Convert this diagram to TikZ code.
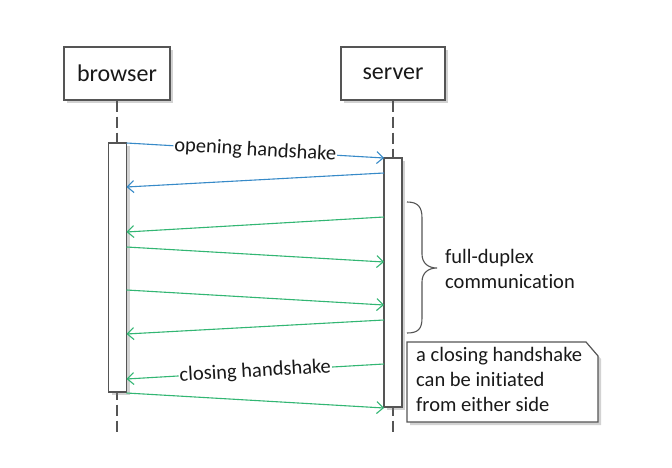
\documentclass[tikz,border=0pt]{standalone}
\usepackage{fontspec}
\setmainfont{Carlito}[Ligatures={NoCommon}]
\usetikzlibrary{arrows.meta,shadows,calc}
\definecolor{msgblue}{RGB}{55,138,200}
\definecolor{msggreen}{RGB}{50,182,115}
\definecolor{edgegray}{RGB}{85,85,85}
\definecolor{txt}{RGB}{25,25,25}
\begin{document}
\begin{tikzpicture}[x=1pt,y=-1pt,
  shadowed/.style={drop shadow={shadow xshift=3pt, shadow yshift=-3pt, opacity=0.35, fill=gray}},
  actor/.style={draw=edgegray, line width=1.2pt, fill=white, minimum height=53pt, inner sep=0pt,
    font=\fontsize{24}{28}\selectfont, text=txt, shadowed},
  activation/.style={draw=edgegray, line width=1.2pt, fill=white, minimum width=18pt,
    minimum height=249pt, inner sep=0pt, shadowed},
  lifeline/.style={draw=edgegray, line width=1.2pt, dash pattern=on 11pt off 5pt},
  msg/.style={line width=1.1pt, -{Straight Barb[length=6.5pt,width=12pt]}},
  msglabel/.style={midway, sloped, fill=white, inner sep=1pt, text=txt, font=\fontsize{20.5}{24}\selectfont},
  plaintext/.style={text=txt, font=\fontsize{20.5}{25}\selectfont, align=left, inner sep=0pt}
]
\useasboundingbox[fill=white] (0,0) rectangle (672,468);

% lifelines
\coordinate (bendline) at (117,432);
\coordinate (sendline) at (393,432);
\node[actor, minimum width=106pt] (browser) at (117,73.5) {browser};
\node[actor, minimum width=104pt] (server) at (393,73.5) {server};
\draw[lifeline] (browser.south) -- (bendline);
\draw[lifeline] (server.south) -- (sendline);

% activation bars
\node[activation] (bbar) at (117.5,267.5) {};
\node[activation] (sbar) at (393,282.5) {};

% message end points
\foreach \n/\y in {1/143,2/187,3/232,4/247,5/290,6/334,7/379,8/393} {
  \coordinate (b\n) at (126.5,\y);
}
\foreach \n/\y in {1/158,2/173,3/217,4/262,5/305,6/320,7/364,8/408} {
  \coordinate (s\n) at (384,\y);
}

\draw[msg, msgblue] (b1) -- (s1) node[msglabel] {opening handshake};
\draw[msg, msgblue] (s2) -- (b2);
\draw[msg, msggreen] (s3) -- (b3);
\draw[msg, msggreen] (b4) -- (s4);
\draw[msg, msggreen] (b5) -- (s5);
\draw[msg, msggreen] (s6) -- (b6);
\draw[msg, msggreen] (s7) -- (b7) node[msglabel] {closing handshake};
\draw[msg, msggreen] (b8) -- (s8);

% brace
\draw[edgegray, line width=1.1pt] (407,202) .. controls (418,202) and (422,207) .. (422,218)
  -- (422,254) .. controls (422,263) and (428,268) .. (437,268)
  .. controls (428,268) and (422,273) .. (422,282)
  -- (422,318) .. controls (422,329) and (418,333) .. (407,333);
\node[plaintext, anchor=west] (duplex) at (445,269) {full-duplex\\communication};

% note
\path[draw=edgegray, line width=1.2pt, fill=white, shadowed]
  (407,342) -- (586,342) -- (598,356) -- (598,422) -- (407,422) -- cycle;
\node[plaintext, anchor=north west] (note) at (416,347) {a closing handshake\\can be initiated\\from either side};
\end{tikzpicture}
\end{document}
